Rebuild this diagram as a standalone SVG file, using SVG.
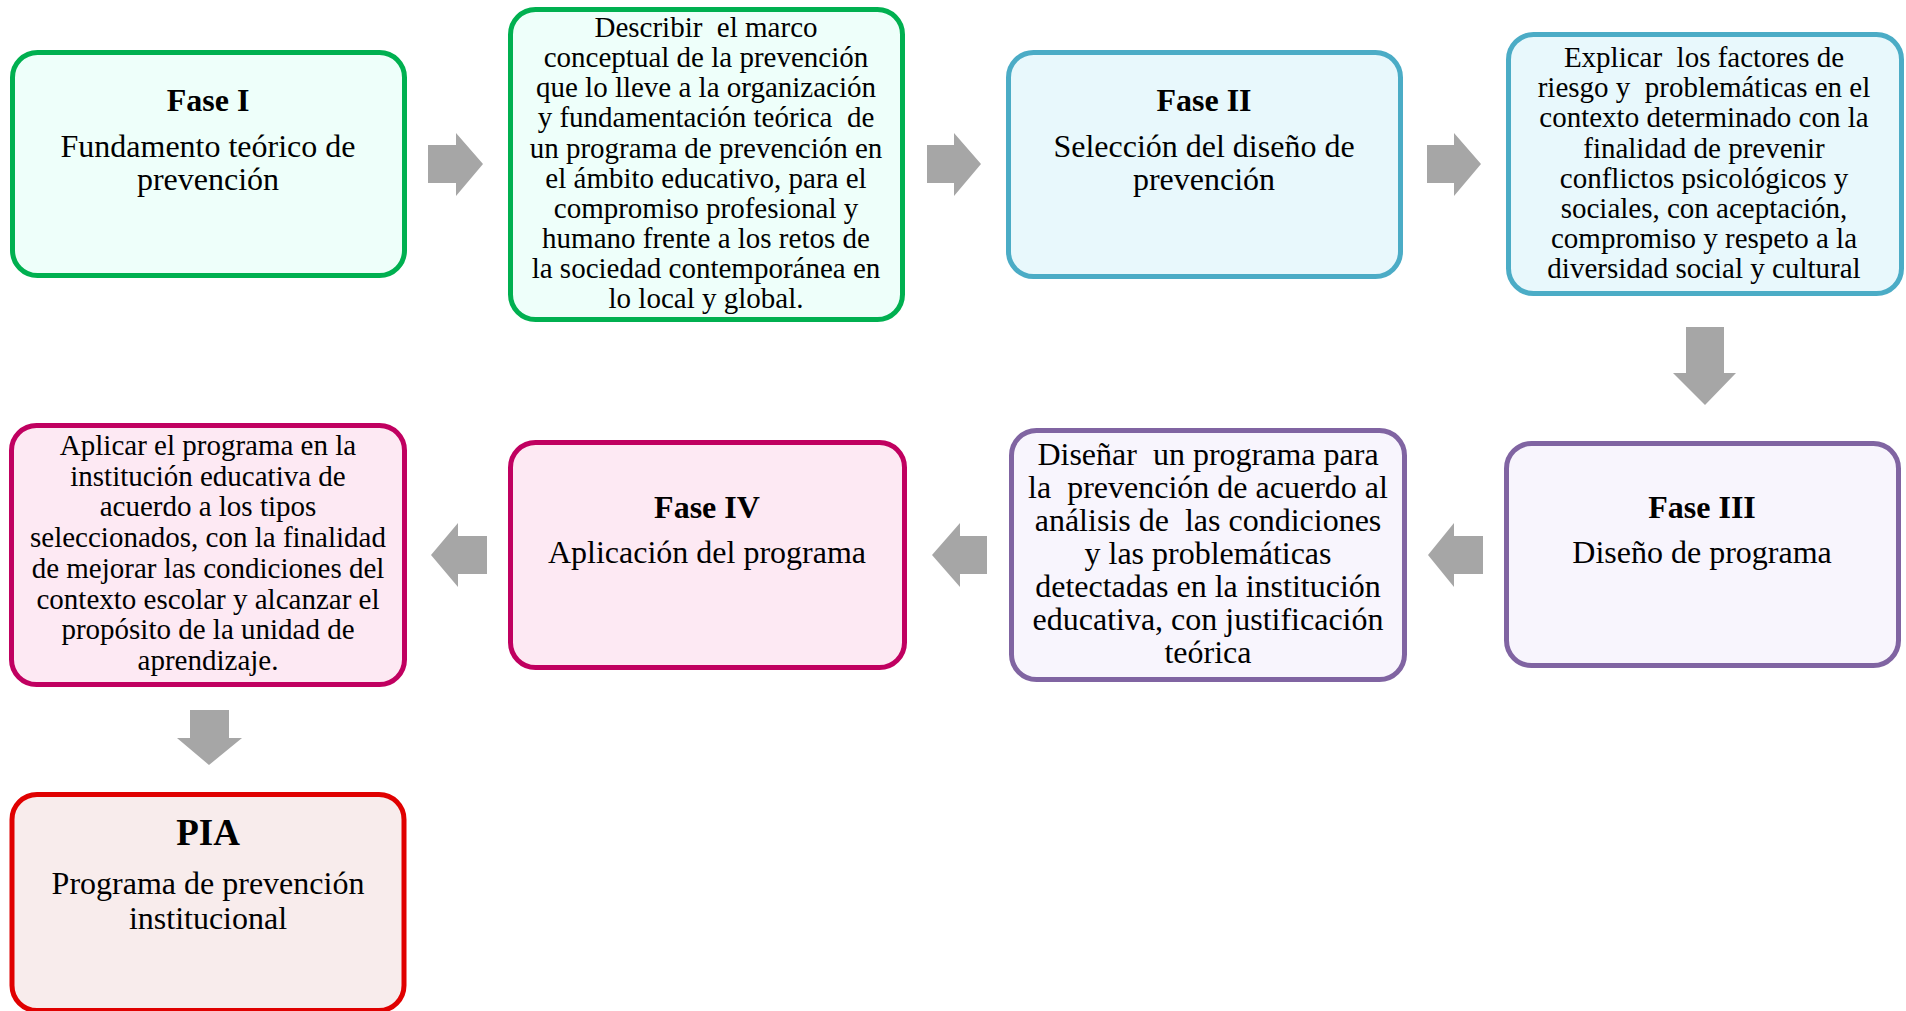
<svg xmlns="http://www.w3.org/2000/svg" width="1906" height="1011" viewBox="0 0 1906 1011">
<style>
  text { font-family: "Liberation Serif", "Times New Roman", serif; fill: #000; text-anchor: middle; white-space: pre; }
  .t { font-size: 32px; }
  .b { font-size: 32px; font-weight: bold; }
  .s { font-size: 29px; }
  .m { font-size: 32px; }
  .box { stroke-width: 5; }
  .green { fill: #EEFFFA; stroke: #00B050; }
  .blue { fill: #E8F8FC; stroke: #4BACC6; }
  .purple { fill: #F8F5FD; stroke: #8064A2; }
  .magenta { fill: #FDE9F3; stroke: #C00060; }
  .red { fill: #F8ECEC; stroke: #E00000; }
  .arrow { fill: #A6A6A6; }
</style>
<rect width="1906" height="1011" fill="#FFFFFF"/>

<g id="connectors">
  <polygon class="arrow" points="428,145 456,145 456,133 483,164 456,196 456,183 428,183"/>
  <polygon class="arrow" points="927,145 954,145 954,133 981,164 954,196 954,183 927,183"/>
  <polygon class="arrow" points="1427,145 1454,145 1454,133 1481,164 1454,196 1454,183 1427,183"/>
  <polygon class="arrow" points="1686,327 1724,327 1724,373 1736,373 1705,405 1673,373 1686,373"/>
  <polygon class="arrow" points="1483,536 1454,536 1454,523 1428,555 1454,587 1454,574 1483,574"/>
  <polygon class="arrow" points="987,536 960,536 960,523 932,555 960,587 960,574 987,574"/>
  <polygon class="arrow" points="487,536 458,536 458,523 431,555 458,587 458,574 487,574"/>
  <polygon class="arrow" points="190,710 229,710 229,738 242,738 209,765 177,738 190,738"/>
</g>

<g id="fase1">
  <rect class="box green" x="12.5" y="52.5" width="392" height="223" rx="25"/>
  <text class="b" x="208" y="111">Fase I</text>
  <text class="t" x="208" y="157">Fundamento teórico de</text>
  <text class="t" x="208" y="190">prevención</text>
</g>

<g id="describir">
  <rect class="box green" x="510.5" y="9.5" width="392" height="310" rx="25"/>
  <text class="s" x="706" y="37">Describir  el marco</text>
  <text class="s" x="706" y="67">conceptual de la prevención</text>
  <text class="s" x="706" y="97">que lo lleve a la organización</text>
  <text class="s" x="706" y="127">y fundamentación teórica  de</text>
  <text class="s" x="706" y="157.5">un programa de prevención en</text>
  <text class="s" x="706" y="188">el ámbito educativo, para el</text>
  <text class="s" x="706" y="218">compromiso profesional y</text>
  <text class="s" x="706" y="248">humano frente a los retos de</text>
  <text class="s" x="706" y="278">la sociedad contemporánea en</text>
  <text class="s" x="706" y="308">lo local y global.</text>
</g>

<g id="fase2">
  <rect class="box blue" x="1008.5" y="52.5" width="392" height="224" rx="25"/>
  <text class="b" x="1204" y="111">Fase II</text>
  <text class="t" x="1204" y="157">Selección del diseño de</text>
  <text class="t" x="1204" y="190">prevención</text>
</g>

<g id="explicar">
  <rect class="box blue" x="1508.5" y="34.5" width="393" height="259" rx="25"/>
  <text class="s" x="1704" y="67">Explicar  los factores de</text>
  <text class="s" x="1704" y="97">riesgo y  problemáticas en el</text>
  <text class="s" x="1704" y="127">contexto determinado con la</text>
  <text class="s" x="1704" y="157.5">finalidad de prevenir</text>
  <text class="s" x="1704" y="187.5">conflictos psicológicos y</text>
  <text class="s" x="1704" y="218">sociales, con aceptación,</text>
  <text class="s" x="1704" y="248">compromiso y respeto a la</text>
  <text class="s" x="1704" y="278">diversidad social y cultural</text>
</g>

<g id="fase3">
  <rect class="box purple" x="1506.5" y="443.5" width="392" height="222" rx="25"/>
  <text class="b" x="1702" y="518">Fase III</text>
  <text class="t" x="1702" y="563">Diseño de programa</text>
</g>

<g id="disenar">
  <rect class="box purple" x="1011.5" y="430.5" width="393" height="249" rx="25"/>
  <text class="m" x="1208" y="465">Diseñar  un programa para</text>
  <text class="m" x="1208" y="498">la  prevención de acuerdo al</text>
  <text class="m" x="1208" y="531">análisis de  las condiciones</text>
  <text class="m" x="1208" y="564">y las problemáticas</text>
  <text class="m" x="1208" y="597">detectadas en la institución</text>
  <text class="m" x="1208" y="630">educativa, con justificación</text>
  <text class="m" x="1208" y="663">teórica</text>
</g>

<g id="fase4">
  <rect class="box magenta" x="510.5" y="442.5" width="394" height="225" rx="25"/>
  <text class="b" x="707" y="518">Fase IV</text>
  <text class="t" x="707" y="563">Aplicación del programa</text>
</g>

<g id="aplicar">
  <rect class="box magenta" x="11.5" y="425.5" width="393" height="259" rx="25"/>
  <text class="s" x="208" y="455">Aplicar el programa en la</text>
  <text class="s" x="208" y="485.7">institución educativa de</text>
  <text class="s" x="208" y="516.4">acuerdo a los tipos</text>
  <text class="s" x="208" y="547">seleccionados, con la finalidad</text>
  <text class="s" x="208" y="577.8">de mejorar las condiciones del</text>
  <text class="s" x="208" y="608.5">contexto escolar y alcanzar el</text>
  <text class="s" x="208" y="639">propósito de la unidad de</text>
  <text class="s" x="208" y="670">aprendizaje.</text>
</g>

<g id="pia">
  <rect class="box red" x="12" y="794.5" width="392" height="216" rx="25"/>
  <text class="b" x="208" y="845" style="font-size:37px">PIA</text>
  <text class="t" x="208" y="894">Programa de prevención</text>
  <text class="t" x="208" y="929">institucional</text>
</g>
</svg>
